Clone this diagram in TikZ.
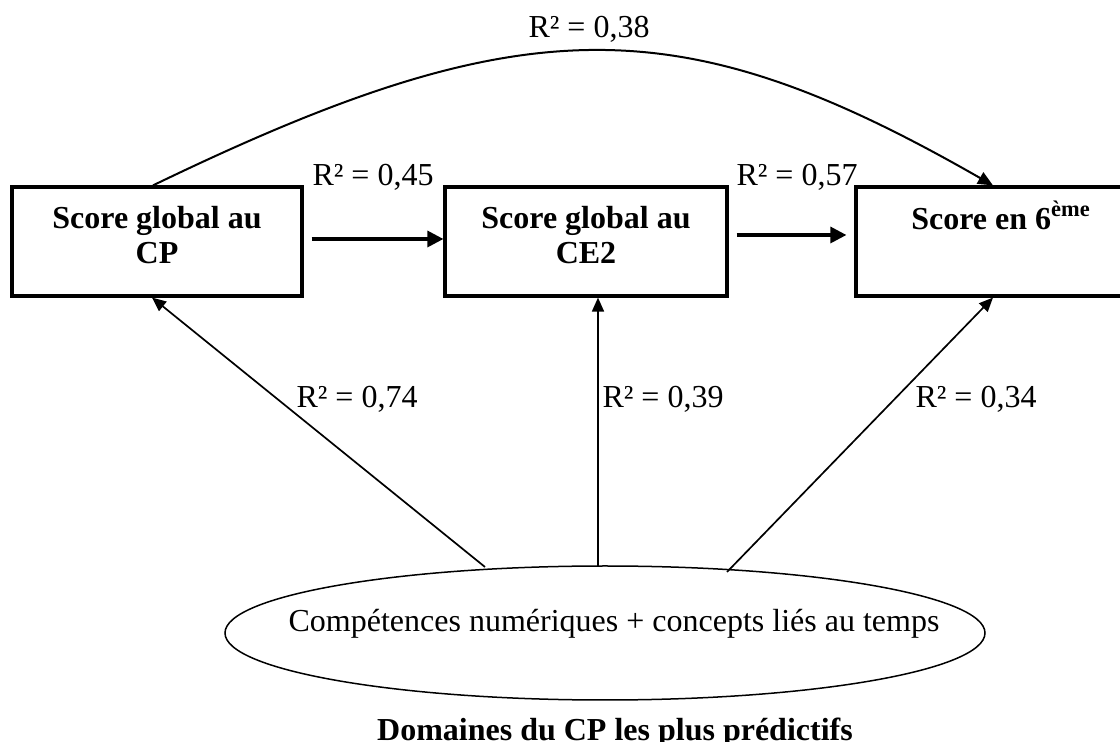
\documentclass[tikz,border=0pt]{standalone}
\usepackage{fontspec}
\setmainfont{Liberation Serif}
\usetikzlibrary{shapes.geometric,arrows.meta}
\newcommand\ftop{\rule{0pt}{14pt}}
\newcommand\fbot{\rule[-9pt]{0pt}{9pt}}
\begin{document}
\begin{tikzpicture}[x=0.5pt,y=-0.5pt,
  box/.style={draw, line width=1.6pt, minimum height=54.5pt, align=center, inner sep=0pt,
    font=\bfseries\fontsize{16}{17.5}\selectfont},
  lbl/.style={anchor=base, inner sep=0pt, font=\fontsize{16}{19}\selectfont},
  bigarrow/.style={line width=1.6pt, -{Triangle[length=8pt,width=8pt]}},
  curvearrow/.style={line width=1pt, -{Triangle[length=7.5pt,width=6.5pt]}},
  smallarrow/.style={line width=0.85pt, -{Triangle[length=7pt,width=6pt]}},
  ell/.style={draw, ellipse, line width=0.75pt, minimum width=380pt, minimum height=67pt, inner sep=0pt},
]
\useasboundingbox (0,0) rectangle (1120,742);

% boxes
\node[box, minimum width=145pt] (b1) at (157,241.5) {\ftop Score global au\\CP\fbot};
\node[box, minimum width=141pt] (b2) at (586,241.5) {\ftop Score global au\\CE2\fbot};
\node[box, minimum width=145pt] (b3) at (1001,241.5) {\ftop Score en 6\textsuperscript{ème}\\\fbot};

% ellipse
\node[ell] (e) at (605,633) {};
\node[anchor=base, inner sep=0pt, font=\fontsize{16}{19}\selectfont] (et) at (614,632)
  {Compétences numériques + concepts liés au temps};
\node[anchor=base, inner sep=0pt, font=\bfseries\fontsize{16}{19}\selectfont] (dom) at (615,741)
  {Domaines du CP les plus prédictifs};

% horizontal arrows
\draw[bigarrow] ([xshift=4pt,yshift=1.25pt]b1.east) -- ([yshift=1.25pt]b2.west);
\draw[bigarrow, shorten >=4pt] ([xshift=4pt,yshift=3.25pt]b2.east) -- ([yshift=3.25pt]b3.west);

% top curve
\draw[curvearrow] ([xshift=-2pt]b1.north) .. controls (524,6) and (680,6) .. ([xshift=-4pt]b3.north);

% arrows from ellipse
\coordinate (s1) at (485,567);
\coordinate (s2) at (598,566);
\coordinate (s3) at (727,572);
\draw[smallarrow] (s1) -- ([xshift=-2.5pt]b1.south);
\draw[smallarrow] (s2) -- (s2 |- b2.south);
\draw[smallarrow] (s3) -- ([xshift=-4pt]b3.south);

% labels
\node[lbl] (l38) at (589,38) {R² = 0,38};
\node[lbl] (l45) at (373,186) {R² = 0,45};
\node[lbl] (l57) at (797,186) {R² = 0,57};
\node[lbl] (l74) at (357,408) {R² = 0,74};
\node[lbl] (l39) at (663,408) {R² = 0,39};
\node[lbl] (l34) at (976,408) {R² = 0,34};
\end{tikzpicture}
\end{document}
